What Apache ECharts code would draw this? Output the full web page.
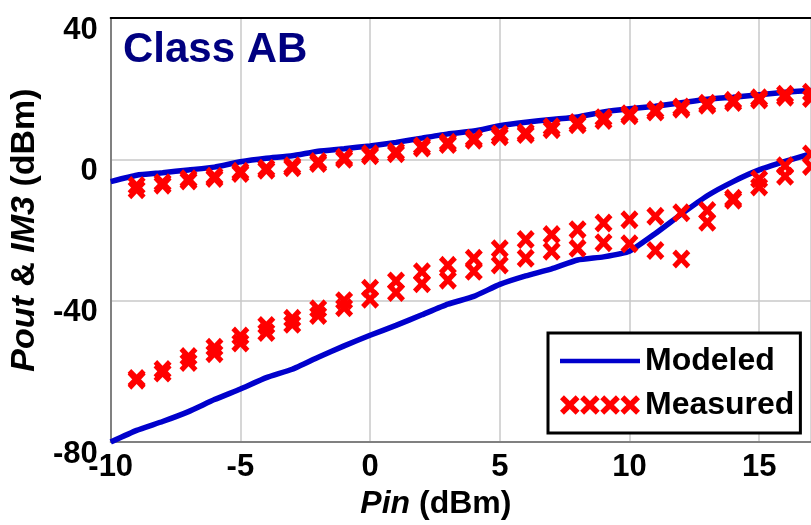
<!DOCTYPE html>
<html>
<head>
<meta charset="utf-8">
<script src="https://cdn.jsdelivr.net/npm/echarts@6/dist/echarts.min.js"></script>
<style>html,body{margin:0;padding:0;background:#fff;}#c{width:811px;height:525px;}</style>
</head>
<body>
<div id="c"></div>
<script>
// ---- data ----
var xModel = [-10,-9,-8,-7,-6,-5,-4,-3,-2,-1,0,1,2,3,4,5,6,7,8,9,10,11,12,13,14,15,16,17];
var modeledPout = [-6.3,-4.5,-3.8,-3.0,-2.2,-0.7,0.3,1.0,2.3,3.0,3.8,4.8,6.0,7.2,8.0,9.5,10.5,11.3,12.0,13.4,14.3,15.0,16.0,17.0,17.6,18.3,19.0,19.5];
var modeledIM3 = [-80,-76.7,-74.2,-71.4,-68,-65,-61.8,-59.4,-56,-52.8,-49.8,-47,-44,-41,-38.8,-35.4,-33,-31,-28.5,-27.6,-26,-21,-15.5,-10.3,-6.3,-3,-0.6,1.6];

var xMeas = [-9,-8,-7,-6,-5,-4,-3,-2,-1,0,1,2,3,4,5,6,7,8,9,10,11,12,13,14,15,16,17];
var measPoutA = [-7.4,-6.6,-5.5,-4.8,-3.4,-2.5,-1.8,-0.6,0.6,1.6,2.2,3.8,4.8,6.0,7.2,7.6,9.2,10.4,11.8,12.9,14.0,14.8,15.9,16.7,17.4,18.4,19.0];
var measPoutB = [-8.6,-7.3,-6.1,-5.4,-4.0,-3.1,-2.4,-1.2,0.0,1.0,1.6,3.2,4.2,5.4,6.4,7.0,8.4,9.8,11.0,12.3,13.4,14.2,15.3,16.1,16.8,17.6,17.2];
var measIM3A = [-62,-59.5,-55.8,-53.2,-50,-47,-45,-42.3,-40,-36.5,-34.4,-31.8,-30,-28,-25.3,-22.7,-21.3,-19.9,-18,-17.1,-16.1,-15.1,-14.5,-11,-5.6,-1.8,1.5];
var measIM3B = [-62.5,-60.5,-57.5,-55,-52,-49,-46.7,-44.2,-42,-39.6,-37.7,-35.2,-34.2,-31.7,-29.9,-28,-26,-25.2,-23.6,-23.9,-25.8,-28.2,-17.8,-11.6,-7.8,-4.8,-2];

var xTicks = [-10,-5,0,5,10,15];
var yTicks = [-80,-40,0,40];
var seriesNames = ['Modeled','Measured'];
var titleText = 'Class AB';

// ---- helpers ----
function pairs(xs, ys){ return xs.map(function(x,i){ return [x, ys[i]]; }); }
function xPath(o){
  var p = [[0,2],[2,0],[5,3],[8,0],[10,2],[7,5],[10,8],[8,10],[5,7],[2,10],[0,8],[3,5]];
  return 'M' + p.map(function(q){ return (q[0]+o) + ',' + q[1]; }).join(' L') + ' Z';
}
var xSymbol = 'path://' + xPath(0);
var xLegend = 'path://' + [0,10.3,20.6,30.9].map(xPath).join(' ');
var lineLegend = 'path://M0,0 L80,0 L80,4.5 L0,4.5 Z';

var FONT = 'Liberation Sans, Arial, sans-serif';
var RED = '#ff0000', BLUE = '#0000cc';

var chart = echarts.init(document.getElementById('c'), null, {renderer:'canvas'});

function lineSeries(ys){
  return {
    name: seriesNames[0], type: 'line', data: pairs(xModel, ys),
    symbol: 'none', smooth: 0.15, z: 2,
    lineStyle: {color: BLUE, width: 5.5}, itemStyle: {color: BLUE}
  };
}
function scatterSeries(ys){
  return {
    name: seriesNames[1], type: 'scatter', data: pairs(xMeas, ys),
    symbol: xSymbol, symbolSize: [18,19], z: 3, clip: false,
    itemStyle: {color: RED, opacity: 1}
  };
}

chart.setOption({
  animation: false,
  backgroundColor: '#fff',
  title: {
    text: titleText, left: 118, top: 24,
    textStyle: {fontFamily: FONT, fontSize: 42, fontWeight: 'bold', color: '#000080'}
  },
  grid: {left: 110, right: 0, top: 18, bottom: 83},
  legend: {
    orient: 'vertical', left: 548, top: 333,
    backgroundColor: '#fff', borderColor: '#000', borderWidth: 3,
    padding: [10, 6, 10, 12],
    itemWidth: 80, itemHeight: 21, itemGap: 8,
    textStyle: {fontFamily: FONT, fontSize: 32, fontWeight: 'bold', color: '#000', lineHeight: 36},
    data: [{name: seriesNames[0], icon: lineLegend}, {name: seriesNames[1], icon: xLegend}]
  },
  xAxis: [{
    type: 'value', min: xTicks[0], max: 17, interval: 5,
    name: '{i|Pin}{b| (dBm)}', nameLocation: 'middle', nameGap: 44,
    nameTextStyle: {padding: [0, 50, 0, 0], rich: {
      i: {fontFamily: FONT, fontSize: 32, fontWeight: 'bold', fontStyle: 'italic', color: '#000'},
      b: {fontFamily: FONT, fontSize: 32, fontWeight: 'bold', color: '#000'}
    }},
    axisLine: {show: true, onZero: false, lineStyle: {color: '#808080', width: 2}},
    axisTick: {show: false},
    axisLabel: {fontFamily: FONT, fontSize: 31, fontWeight: 'bold', color: '#000', margin: 10, showMaxLabel: false},
    splitLine: {show: true, lineStyle: {color: '#c8c8c8', width: 1.5}}
  }, {
    type: 'value', position: 'top', min: xTicks[0], max: 17, interval: 5,
    axisLine: {show: true, onZero: false, lineStyle: {color: '#000', width: 2}},
    axisTick: {show: false}, axisLabel: {show: false}, splitLine: {show: false}
  }],
  yAxis: {
    type: 'value', min: yTicks[0], max: yTicks[yTicks.length-1], interval: 40,
    name: '{i|Pout}{b| & }{i|IM3}{b| (dBm)}', nameLocation: 'middle', nameGap: 64,
    nameTextStyle: {rich: {
      i: {fontFamily: FONT, fontSize: 34, fontWeight: 'bold', fontStyle: 'italic', color: '#000'},
      b: {fontFamily: FONT, fontSize: 34, fontWeight: 'bold', color: '#000'}
    }},
    axisLine: {show: true, onZero: false, lineStyle: {color: '#808080', width: 2}},
    axisTick: {show: false},
    axisLabel: {fontFamily: FONT, fontSize: 31, fontWeight: 'bold', color: '#000', margin: 13, verticalAlign: 'top', lineHeight: 24},
    splitLine: {show: true, lineStyle: {color: '#c8c8c8', width: 1.5}}
  },
  series: [
    lineSeries(modeledPout),
    lineSeries(modeledIM3),
    scatterSeries(measPoutA),
    scatterSeries(measPoutB),
    scatterSeries(measIM3A),
    scatterSeries(measIM3B)
  ]
});
</script>
</body>
</html>
